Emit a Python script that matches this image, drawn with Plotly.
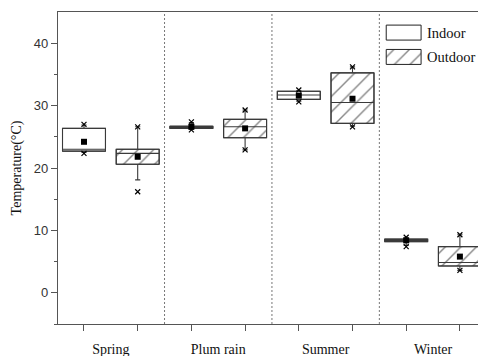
import plotly.graph_objects as go

# Box statistics per season, indoor/outdoor alternating
seasons = ["Spring", "Plum rain", "Summer", "Winter"]
positions = [1, 2, 3, 4, 5, 6, 7, 8]
is_outdoor = [False, True, False, True, False, True, False, True]
q1 = [22.7, 20.6, 26.35, 24.85, 31.0, 27.15, 8.2, 4.3]
median = [23.0, 22.35, 26.5, 26.6, 31.7, 30.5, 8.4, 4.85]
q3 = [26.35, 23.0, 26.7, 27.8, 32.3, 35.25, 8.6, 7.4]
whisker_low = [22.5, 18.1, 26.2, 22.9, 30.7, 26.7, 7.6, 3.6]
whisker_high = [26.9, 26.6, 27.3, 29.3, 32.4, 36.2, 8.8, 9.3]
mean = [24.2, 21.8, 26.6, 26.35, 31.6, 31.1, 8.4, 5.8]
extreme_low = [22.35, 16.2, 26.1, 22.9, 30.6, 26.6, 7.4, 3.6]
extreme_high = [27.0, 26.6, 27.4, 29.3, 32.5, 36.2, 8.9, 9.3]
legend_labels = ["Indoor", "Outdoor"]

EDGE = "#3a3a3a"
SERIF = "Liberation Serif"
SANS = "Liberation Sans"
BOX_W = 0.8


def body_marker(outdoor):
    return dict(
        color="white",
        line=dict(color="#222", width=1),
        pattern=dict(shape="/" if outdoor else "", fgcolor="#111",
                     bgcolor="white", size=11, solidity=0.13),
    )


fig = go.Figure()

# Box bodies (white or hatched) drawn as bars from q1 to q3
for outdoor in (False, True):
    xs = [p for p, o in zip(positions, is_outdoor) if o == outdoor]
    lo = [v for v, o in zip(q1, is_outdoor) if o == outdoor]
    hi = [v for v, o in zip(q3, is_outdoor) if o == outdoor]
    fig.add_trace(go.Bar(
        x=xs, base=lo, y=[h - l for h, l in zip(hi, lo)], width=BOX_W,
        marker=body_marker(outdoor), showlegend=False, hoverinfo="skip",
    ))

# Outlines, medians and whiskers
for i, p in enumerate(positions):
    fig.add_trace(go.Box(
        x=[p], q1=[q1[i]], median=[median[i]], q3=[q3[i]],
        lowerfence=[whisker_low[i]], upperfence=[whisker_high[i]],
        width=BOX_W, whiskerwidth=0.12,
        fillcolor="rgba(0,0,0,0)", line=dict(color=EDGE, width=1.1),
        showlegend=False, hoverinfo="skip",
    ))

# Means
fig.add_trace(go.Scatter(
    x=positions, y=mean, mode="markers", showlegend=False,
    marker=dict(symbol="square", size=6, color="black"),
))
# Extremes
fig.add_trace(go.Scatter(
    x=positions + positions, y=extreme_low + extreme_high, mode="markers",
    showlegend=False,
    marker=dict(symbol="x-thin-open", size=5, color="black",
                line=dict(color="black", width=1.2)),
))

# Legend swatches on a hidden overlay axis (0..1 in both directions)
swatch_y = [0.934, 0.856]
for j, label in enumerate(legend_labels):
    fig.add_trace(go.Bar(
        x=[0.823], base=[swatch_y[j] - 0.024], y=[0.048], width=0.083,
        marker=body_marker(j == 1), xaxis="x2", yaxis="y2",
        showlegend=False, hoverinfo="skip",
    ))
    fig.add_annotation(
        text=label, xref="paper", yref="paper", x=0.874, y=swatch_y[j],
        xanchor="left", yanchor="middle", showarrow=False,
        font=dict(family=SERIF, size=14.5, color="#111"),
    )

# Dotted separators between seasons
for sep in (2.5, 4.5, 6.5):
    fig.add_shape(type="line", xref="x", yref="paper", x0=sep, x1=sep,
                  y0=0, y1=1, line=dict(color="#777", width=1, dash="2px,2px"))

group_centres = [(positions[2 * k] + positions[2 * k + 1]) / 2 for k in range(len(seasons))]

fig.update_layout(
    width=478, height=356,
    margin=dict(l=58, r=0, t=12, b=32),
    plot_bgcolor="white", paper_bgcolor="white",
    barmode="overlay", boxmode="overlay",
    showlegend=False,
    xaxis=dict(
        range=[0.516, 8.337], showgrid=False, zeroline=False,
        showline=True, linecolor="#555", linewidth=1.2, mirror=True,
        tickvals=group_centres, ticktext=seasons, ticks="",
        ticklabelstandoff=12,
        tickfont=dict(family=SERIF, size=14, color="#111"),
        minor=dict(tickvals=positions, ticks="outside", ticklen=6,
                   tickcolor="#555", tickwidth=1.2, showgrid=False),
    ),
    yaxis=dict(
        range=[-5, 45], showgrid=False, zeroline=False,
        showline=True, linecolor="#555", linewidth=1.2,
        tickvals=[0, 10, 20, 30, 40], ticks="outside", ticklen=6,
        tickcolor="#555", tickwidth=1.2,
        tickfont=dict(family=SANS, size=13, color="#333"),
        minor=dict(tickvals=[-5, 5, 15, 25, 35], ticks="outside", ticklen=3,
                   tickcolor="#555", tickwidth=1),
        title=dict(text="Temperature(°C)", standoff=8,
                   font=dict(family=SERIF, size=14, color="#111")),
    ),
    xaxis2=dict(overlaying="x", range=[0, 1], visible=False, fixedrange=True),
    yaxis2=dict(overlaying="y", range=[0, 1], visible=False, fixedrange=True),
)

fig.write_html("out.html")
